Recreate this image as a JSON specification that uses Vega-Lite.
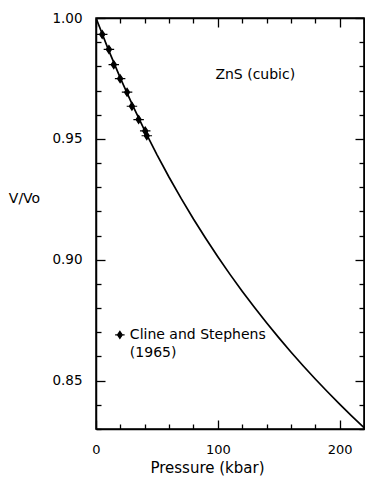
{
  "$schema": "https://vega.github.io/schema/vega-lite/v6.json",
  "autosize": "none",
  "width": 268,
  "height": 411,
  "padding": {"top": 18, "left": 96, "right": 1, "bottom": 52},
  "background": "white",
  "config": {
    "view": {"stroke": "black", "strokeWidth": 1.5},
    "font": "DejaVu Sans",
    "axis": {"domainColor": "black", "tickColor": "black", "labelColor": "black", "titleColor": "black", "grid": false, "labelFont": "DejaVu Sans", "titleFont": "DejaVu Sans", "titleFontWeight": "normal", "domainWidth": 1.5, "tickWidth": 1.3}
  },
  "datasets": {
    "curve": [
      {"P": 0, "V": 1.0}, {"P": 10, "V": 0.98714}, {"P": 20, "V": 0.97516}, {"P": 30, "V": 0.96395},
      {"P": 40, "V": 0.95342}, {"P": 50, "V": 0.94351}, {"P": 60, "V": 0.93414}, {"P": 70, "V": 0.92528},
      {"P": 80, "V": 0.91687}, {"P": 90, "V": 0.90887}, {"P": 100, "V": 0.90124}, {"P": 110, "V": 0.89396},
      {"P": 120, "V": 0.887}, {"P": 130, "V": 0.88033}, {"P": 140, "V": 0.87393}, {"P": 150, "V": 0.86778},
      {"P": 160, "V": 0.86187}, {"P": 170, "V": 0.85618}, {"P": 180, "V": 0.8507}, {"P": 190, "V": 0.8454},
      {"P": 200, "V": 0.84028}, {"P": 210, "V": 0.83535}, {"P": 220, "V": 0.83054}
    ],
    "obs": [
      {"P": 5.1, "V": 0.9932}, {"P": 10.6, "V": 0.987}, {"P": 14.6, "V": 0.9807},
      {"P": 19.8, "V": 0.9749}, {"P": 25.5, "V": 0.9693}, {"P": 29.5, "V": 0.9635},
      {"P": 35.0, "V": 0.958}, {"P": 40.4, "V": 0.9533}, {"P": 41.7, "V": 0.9513}
    ],
    "legend": [{"P": 19.6, "V": 0.8689}],
    "labels": [
      {"P": 98, "V": 0.9764, "txt": ["ZnS (cubic)"]},
      {"P": 27.8, "V": 0.869, "txt": ["Cline and Stephens", "(1965)"]}
    ]
  },
  "layer": [
    {
      "data": {"name": "curve"},
      "mark": {"type": "line", "color": "black", "strokeWidth": 1.7, "clip": true},
      "encoding": {
        "x": {"field": "P", "type": "quantitative", "scale": {"domain": [0, 220], "nice": false, "zero": false},
          "axis": {"orient": "bottom", "values": [0, 20, 40, 60, 80, 100, 120, 140, 160, 180, 200, 220],
            "tickSize": {"expr": "datum.value % 100 === 0 ? -9 : -5"},
            "labelExpr": "datum.value % 100 === 0 ? datum.label : ''",
            "labelFontSize": 13, "labelPadding": 23, "labelFlush": false,
            "title": "Pressure (kbar)", "titleFontSize": 15, "titleX": 111, "titleY": 38, "titleAlign": "center", "titleBaseline": "middle"}},
        "y": {"field": "V", "type": "quantitative", "scale": {"domain": [0.83, 1.0], "nice": false, "zero": false},
          "axis": {"orient": "left", "values": [0.83, 0.84, 0.85, 0.86, 0.87, 0.88, 0.89, 0.9, 0.91, 0.92, 0.93, 0.94, 0.95, 0.96, 0.97, 0.98, 0.99, 1.0],
            "tickSize": {"expr": "round(datum.value * 100) % 5 === 0 ? -9 : -5"},
            "labelExpr": "round(datum.value * 100) % 5 === 0 ? format(datum.value, '.2f') : ''",
            "labelFontSize": 13.5, "labelPadding": 23, "labelFlush": false,
            "title": "V/Vo", "titleFontSize": 14, "titleAngle": 0, "titleX": -72, "titleY": 180, "titleAlign": "center", "titleBaseline": "middle"}}
      }
    },
    {
      "data": {"name": "obs"},
      "mark": {"type": "point", "shape": "M-1,0L-0.5,0L0,-0.75L0.5,0L1,0L0.5,0L0,0.75L-0.5,0Z", "filled": true, "color": "black", "stroke": "black", "strokeWidth": 1.2, "size": 110, "opacity": 1},
      "encoding": {
        "x": {"field": "P", "type": "quantitative",
          "axis": {"orient": "top", "values": [0, 20, 40, 60, 80, 100, 120, 140, 160, 180, 200, 220],
            "tickSize": {"expr": "datum.value % 100 === 0 ? -9 : -5"}, "labels": false, "title": null}},
        "y": {"field": "V", "type": "quantitative",
          "axis": {"orient": "right", "values": [0.83, 0.84, 0.85, 0.86, 0.87, 0.88, 0.89, 0.9, 0.91, 0.92, 0.93, 0.94, 0.95, 0.96, 0.97, 0.98, 0.99, 1.0],
            "tickSize": {"expr": "round(datum.value * 100) % 5 === 0 ? -9 : -5"}, "labels": false, "title": null}}
      }
    },
    {
      "data": {"name": "legend"},
      "mark": {"type": "point", "shape": "M-1,0L-0.5,0L0,-0.75L0.5,0L1,0L0.5,0L0,0.75L-0.5,0Z", "filled": true, "color": "black", "stroke": "black", "strokeWidth": 1.2, "size": 90, "opacity": 1},
      "encoding": {
        "x": {"field": "P", "type": "quantitative", "axis": null},
        "y": {"field": "V", "type": "quantitative", "axis": null}
      }
    },
    {
      "data": {"name": "labels"},
      "mark": {"type": "text", "align": "left", "baseline": "middle", "fontSize": 14, "lineHeight": 18, "color": "black", "font": "DejaVu Sans"},
      "encoding": {
        "x": {"field": "P", "type": "quantitative", "axis": null},
        "y": {"field": "V", "type": "quantitative", "axis": null},
        "text": {"field": "txt"}
      }
    }
  ],
  "resolve": {"axis": {"x": "independent", "y": "independent"}}
}
